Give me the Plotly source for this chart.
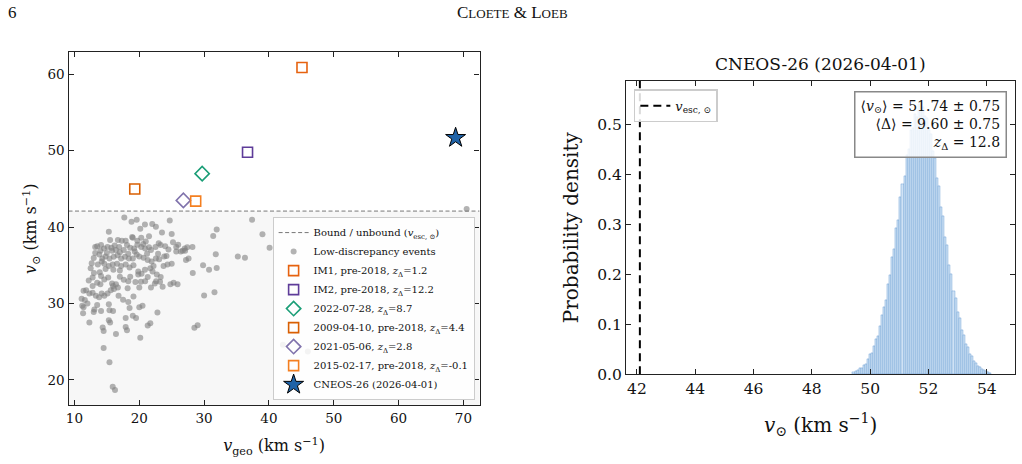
import plotly.graph_objects as go

# ---------------- data ----------------
V_ESC = 42.1  # heliocentric escape speed (km/s)

# low-discrepancy events (v_geo, v_sun) in km/s
vgeo = [17.69, 18.8, 19.6, 20.15, 20.87, 22.0, 22.56, 24.7, 25.0, 23.5, 21.5, 15.3, 19.0, 19.7, 21.0,
        15.5, 16.7, 17.3, 17.9, 13.5, 14.1, 14.56, 15.1, 15.7, 16.2, 16.9, 18.1, 18.6, 19.2, 19.7,
        20.3, 20.9, 21.5, 23.0, 23.3, 24.5, 25.7, 26.4, 27.0, 12.97, 13.2, 13.84, 14.3, 14.8, 15.4,
        16.05, 16.66, 17.2, 17.8, 18.4, 19.0, 19.6, 20.0, 20.66, 21.3, 21.9, 22.56, 23.07, 23.84,
        23.74, 24.35, 25.0, 25.7, 26.7, 12.5, 12.66, 13.6, 14.2, 14.6, 15.3, 15.9, 16.56, 17.2,
        17.9, 18.5, 19.1, 19.84, 20.35, 20.87, 21.7, 22.2, 12.8, 13.9, 14.1, 14.6, 13.5, 14.0, 12.8,
        15.2, 15.8, 16.4, 16.7, 15.95, 17.6, 18.3, 18.2, 19.84, 20.25, 20.0, 20.9, 21.3, 21.8, 22.4,
        22.6, 23.2, 24.8, 25.3, 25.9, 11.4, 11.8, 12.3, 12.8, 13.3, 13.8, 14.2, 14.6, 15.1, 15.6,
        16.1, 11.1, 11.6, 11.2, 11.4, 11.33, 13.07, 12.97, 14.1, 15.3, 15.4, 15.95, 18.3, 18.5, 12.3,
        14.35, 14.5, 15.3, 15.5, 16.4, 17.9, 19.0, 19.5, 17.9, 18.1, 20.0, 20.5, 20.15, 21.3, 21.7,
        14.5, 15.4, 15.9, 16.25, 22.05, 22.7, 23.3, 37.4, 39.0, 40.1, 31.94, 31.4, 28.2, 27.4, 27.07,
        27.6, 27.2, 31.8, 35.2, 36.3, 29.84, 30.76, 31.94, 28.25, 30.0, 31.6, 28.5, 29.0, 42.15,
        70.5, 46.0, 13.2, 14.0, 15.0, 15.8, 16.4, 17.0, 17.6, 18.3, 19.3, 20.6, 21.8, 22.5, 16.0,
        17.0, 18.6, 19.4, 13.0, 12.2, 14.8, 17.0, 18.9, 20.3, 24.0, 25.2, 26.0, 21.2, 22.9, 24.2,
        12.0, 13.5, 16.8, 17.5, 19.1, 22.8, 23.6]
vsun = [41.25, 40.7, 40.95, 39.8, 40.35, 40.4, 40.05, 40.86, 39.1, 39.3, 38.8, 39.4, 38.6, 38.2, 38.1,
        38.3, 38.3, 38.2, 38.2, 37.5, 37.65, 37.2, 37.4, 37.3, 37.6, 37.4, 37.65, 37.3, 37.2, 37.7,
        37.4, 37.2, 37.35, 37.9, 37.65, 37.05, 37.4, 36.8, 37.2, 35.95, 36.6, 36.4, 35.9, 36.15, 35.9,
        36.1, 36.3, 35.9, 36.1, 35.9, 35.9, 36.4, 36.15, 36.0, 35.7, 35.5, 35.9, 35.8, 36.15,
        34.9, 35.1, 35.2, 36.8, 36.9, 34.6, 35.25, 35.1, 35.5, 35.2, 34.9, 35.1, 35.2, 34.9,
        35.1, 34.7, 35.0, 34.2, 33.9, 34.4, 34.6, 34.9, 33.4, 34.1, 33.6, 33.15, 32.7, 32.5, 32.3,
        33.4, 32.6, 32.5, 32.1, 32.3, 33.1, 32.9, 32.0, 33.8, 32.85, 32.1, 32.9, 33.45, 32.1, 32.6,
        32.9, 32.85, 32.5, 32.7, 32.5, 31.65, 31.74, 31.3, 31.4, 31.0, 30.8, 31.3, 31.0, 31.3, 31.74,
        31.9, 30.6, 30.45, 29.7, 29.5, 28.7, 29.2, 28.87, 29.0, 29.9, 29.1, 29.0, 30.2, 29.4, 27.5,
        26.85, 26.4, 27.8, 27.5, 26.0, 28.1, 28.4, 28.1, 26.9, 26.5, 29.5, 29.7, 25.5, 27.1, 27.4,
        24.15, 22.3, 19.1, 18.67, 34.2, 33.8, 33.45, 40.95, 39.06, 37.3, 39.7, 38.85, 37.4, 37.35, 36.9,
        35.9, 35.7, 36.45, 36.15, 36.0, 35.0, 34.4, 34.65, 34.0, 31.05, 31.45, 26.8, 27.15, 24.6,
        42.36, 23.7, 37.4, 36.9, 36.6, 36.9, 37.0, 36.7, 37.0, 36.5, 36.8, 37.8, 37.0, 37.4, 34.4,
        34.3, 33.5, 32.8, 34.0, 33.0, 34.5, 33.5, 38.7, 38.6, 37.5, 38.0, 37.7, 36.5, 36.5, 36.2,
        30.0, 29.8, 31.0, 30.5, 30.9, 28.8, 32.2]

# highlighted events
special_names = ["IM1, pre-2018, <i>z</i><sub>Δ</sub>=1.2",
                 "IM2, pre-2018, <i>z</i><sub>Δ</sub>=12.2",
                 "2022-07-28, <i>z</i><sub>Δ</sub>=8.7",
                 "2009-04-10, pre-2018, <i>z</i><sub>Δ</sub>=4.4",
                 "2021-05-06, <i>z</i><sub>Δ</sub>=2.8",
                 "2015-02-17, pre-2018, <i>z</i><sub>Δ</sub>=-0.1"]
special_vgeo = [45.1, 36.7, 29.7, 19.3, 26.8, 28.7]
special_vsun = [60.9, 49.8, 47.0, 45.0, 43.5, 43.4]
special_symbols = ["square-open", "square-open", "diamond-open", "square-open", "diamond-open", "square-open"]
special_colors = ["#e6620f", "#5e3c99", "#1b9e77", "#d95f02", "#8073ac", "#f47f20"]

star_name = "CNEOS-26 (2026-04-01)"
star_vgeo = [68.8]
star_vsun = [51.7]

# posterior histogram of v_sun for CNEOS-26
hist_lo = 49.40
hist_width = 0.07
hist_density = [0.004, 0.007, 0.008, 0.012, 0.013, 0.019, 0.021, 0.031, 0.040, 0.042,
                0.056, 0.071, 0.076, 0.097, 0.118, 0.135, 0.149, 0.181, 0.198, 0.236,
                0.251, 0.293, 0.309, 0.355, 0.381, 0.398, 0.440, 0.452, 0.489, 0.493,
                0.521, 0.515, 0.541, 0.527, 0.536, 0.518, 0.514, 0.489, 0.482, 0.447,
                0.433, 0.394, 0.378, 0.336, 0.317, 0.276, 0.259, 0.219, 0.201, 0.166,
                0.152, 0.124, 0.112, 0.088, 0.079, 0.061, 0.054, 0.041, 0.036, 0.026,
                0.022, 0.016, 0.014, 0.010, 0.008, 0.006, 0.004, 0.003]
hist_centers = [hist_lo + hist_width * (i + 0.5) for i in range(len(hist_density))]

stats_text = ("⟨<i>v</i><sub>⊙</sub>⟩ = 51.74 ± 0.75<br>"
              "⟨Δ⟩ = 9.60 ± 0.75<br>"
              "<i>z</i><sub>Δ</sub> = 12.8")

# ---------------- layout constants ----------------
W, H = 1022, 464
SERIF = "DejaVu Serif"
L_XR = [9.08, 72.5]
L_YR = [16.66, 62.9]
R_XR = [41.63, 54.97]
R_YR = [0.0, 0.588]

fig = go.Figure()

# left panel
fig.add_trace(go.Scatter(
    x=L_XR, y=[V_ESC, V_ESC], mode="lines",
    line=dict(color="#777777", width=1, dash="4px,2.5px"),
    name="Bound / unbound (<i>v</i><sub>esc, ⊙</sub>)", legend="legend",
    xaxis="x", yaxis="y", hoverinfo="skip"))
fig.add_trace(go.Scatter(
    x=vgeo, y=vsun, mode="markers",
    marker=dict(size=6, color="rgba(128,128,128,0.6)", line=dict(width=0)),
    name="Low-discrepancy events", legend="legend", xaxis="x", yaxis="y"))
for nm, xv, yv, sym, col in zip(special_names, special_vgeo, special_vsun, special_symbols, special_colors):
    fig.add_trace(go.Scatter(
        x=[xv], y=[yv], mode="markers",
        marker=dict(symbol=sym, size=10 if "square" in sym else 11,
                    color=col, line=dict(color=col, width=1.6)),
        name=nm, legend="legend", xaxis="x", yaxis="y"))
fig.add_trace(go.Scatter(
    x=star_vgeo, y=star_vsun, mode="markers",
    marker=dict(symbol="star", size=15, color="#1f63a8", line=dict(color="black", width=1)),
    name=star_name, legend="legend", xaxis="x", yaxis="y"))

# right panel
fig.add_trace(go.Bar(
    x=hist_centers, y=hist_density, width=hist_width,
    marker=dict(color="#d0e2f5", line=dict(color="#5590cf", width=0.4)),
    showlegend=False, xaxis="x2", yaxis="y2"))
fig.add_trace(go.Scatter(
    x=[V_ESC, V_ESC], y=R_YR, mode="lines",
    line=dict(color="black", width=2, dash="8px,5px"),
    name="<i>v</i><sub>esc, ⊙</sub>", legend="legend2",
    xaxis="x2", yaxis="y2"))

axis_common = dict(showline=True, linecolor="#222222", linewidth=1.3, mirror="allticks",
                   ticks="inside", ticklen=5, tickwidth=1, tickcolor="#222222",
                   showgrid=False, zeroline=False,
                   tickfont=dict(family=SERIF, size=13.5, color="#111111"))
right_tickfont = dict(family=SERIF, size=15.5, color="#111111")

fig.update_layout(
    width=W, height=H, margin=dict(l=0, r=0, t=0, b=0),
    paper_bgcolor="white", plot_bgcolor="white",
    barmode="overlay", bargap=0,
    font=dict(family=SERIF, color="#111111"),
    xaxis=dict(domain=[65.7 / W, 478 / W], range=L_XR, anchor="y",
               tickvals=[10, 20, 30, 40, 50, 60, 70],
               title=dict(text="<i>v</i><sub>geo</sub> (km s<sup>−1</sup>)",
                          font=dict(family=SERIF, size=16), standoff=15),
               **axis_common),
    yaxis=dict(domain=[1 - 413.3 / H, 1 - 53.3 / H], range=L_YR, anchor="x",
               tickvals=[20, 30, 40, 50, 60],
               title=dict(text="<i>v</i><sub>⊙</sub> (km s<sup>−1</sup>)",
                          font=dict(family=SERIF, size=16), standoff=6),
               **axis_common),
    xaxis2=dict(domain=[625 / W, 1015 / W], range=R_XR, anchor="y2",
                tickvals=[42, 44, 46, 48, 50, 52, 54],
                title=dict(text="<i>v</i><sub>⊙</sub> (km s<sup>−1</sup>)",
                           font=dict(family=SERIF, size=20), standoff=20),
                **{**axis_common, "tickfont": right_tickfont}),
    yaxis2=dict(domain=[1 - 381.7 / H, 1 - 82.7 / H], range=R_YR, anchor="x2",
                tickvals=[0.0, 0.1, 0.2, 0.3, 0.4, 0.5], tickformat=".1f",
                title=dict(text="Probability density",
                           font=dict(family=SERIF, size=20), standoff=13),
                **{**axis_common, "tickfont": right_tickfont}),
    legend=dict(x=473 / W, y=1 - 408 / H, xanchor="right", yanchor="bottom",
                bgcolor="rgba(255,255,255,0.85)", bordercolor="#cccccc", borderwidth=1,
                font=dict(family=SERIF, size=10, color="#111111"),
                tracegroupgap=0, itemwidth=30),
    legend2=dict(x=632.7 / W, y=1 - 91 / H, xanchor="left", yanchor="top",
                 bgcolor="rgba(255,255,255,0.85)", bordercolor="#cccccc", borderwidth=1.5,
                 font=dict(family=SERIF, size=13, color="#111111")),
    shapes=[dict(type="rect", xref="x domain", yref="y", x0=0, x1=1,
                 y0=L_YR[0], y1=V_ESC, fillcolor="#f7f7f7", line=dict(width=0),
                 layer="below")],
    annotations=[
        dict(text="6", x=10 / W, y=1 - 13 / H, xref="paper", yref="paper",
             xanchor="center", yanchor="middle", showarrow=False,
             font=dict(family="Liberation Serif", size=17, color="#111111")),
        dict(text="C<span style='font-size:13px'>LOETE</span> &amp; L<span style='font-size:13px'>OEB</span>",
             x=0.5, y=1 - 13 / H, xref="paper", yref="paper",
             xanchor="center", yanchor="middle", showarrow=False,
             font=dict(family="Liberation Serif", size=17, color="#111111")),
        dict(text="CNEOS-26 (2026-04-01)", x=(625 + 1015) / 2 / W, y=1 - 65 / H,
             xref="paper", yref="paper", xanchor="center", yanchor="middle",
             showarrow=False, font=dict(family=SERIF, size=17, color="#111111")),
        dict(text=stats_text, x=1006.7 / W, y=1 - 93.3 / H, xref="paper", yref="paper",
             xanchor="right", yanchor="top", align="right", showarrow=False,
             bgcolor="rgba(255,255,255,0.8)", bordercolor="#888888", borderwidth=1.5,
             borderpad=5, font=dict(family=SERIF, size=14, color="#111111")),
    ],
)

fig.write_html("out.html")
